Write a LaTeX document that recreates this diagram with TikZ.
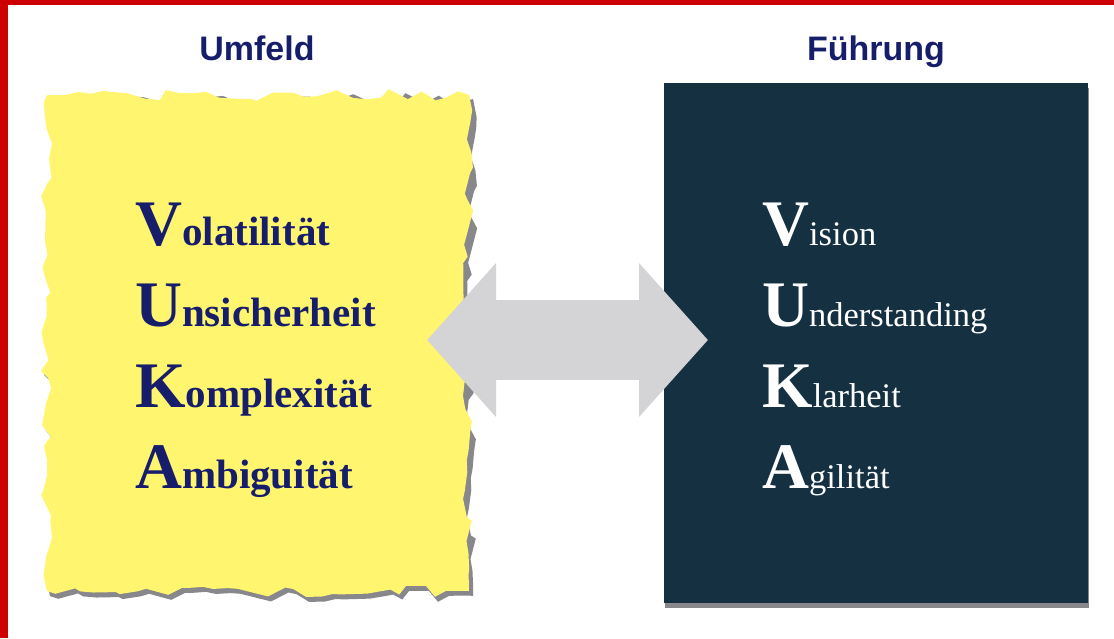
\documentclass[tikz,border=0pt]{standalone}
\usepackage{fontspec}
\setmainfont{Liberation Serif}
\setsansfont{Liberation Sans}
\usetikzlibrary{positioning,arrows.meta,decorations.pathmorphing,shadows}
\definecolor{ink}{RGB}{22,30,108}
\definecolor{paper}{RGB}{255,245,110}
\definecolor{night}{RGB}{21,48,64}
\definecolor{linkgrey}{RGB}{212,212,214}
\definecolor{frame}{RGB}{204,0,0}
\definecolor{smudge}{RGB}{135,135,140}
\newcommand{\vuka}[2]{{\fontsize{65}{65}\selectfont\bfseries #1}#2}

\begin{document}
\begin{tikzpicture}[x=1pt,y=-1pt]
	\tikzstyle{title}=[font=\sffamily\bfseries\fontsize{34}{34}\selectfont, text=ink, anchor=base, inner sep=0pt]
	\tikzstyle{left_item}=[anchor=base west, inner sep=0pt, text=ink, font=\bfseries\fontsize{41}{41}\selectfont]
	\tikzstyle{right_item}=[anchor=base west, inner sep=0pt, text=white, font=\fontsize{34.5}{34.5}\selectfont]
	\tikzstyle{rough}=[decorate, decoration={random steps, segment length=13pt, amplitude=6pt}]
	\tikzstyle{dark_box}=[rectangle, fill=night, minimum width=424pt, minimum height=520pt, inner sep=0pt, drop shadow={shadow xshift=1pt, shadow yshift=-5pt, fill=smudge, opacity=1}]
	\tikzstyle{double_link}=[draw=linkgrey, line width=80pt, >={Triangle[length=69pt,width=150pt]}, <->]

	\useasboundingbox (0,0) rectangle (1114,638);
	\fill[white] (0,0) rectangle (1114,638);
	\fill[frame] (0,0) rectangle (8,638);
	\fill[frame] (0,0) rectangle (1114,5);

	% Umfeld
	\pgfmathsetseed{23}
	\fill[smudge, rough] (50,99) rectangle (473,596);
	\pgfmathsetseed{23}
	\fill[paper, rough] (47,95) rectangle (469,591);
	\node[title] (umfeld) at (257,60) {Umfeld};

	% Fuehrung
	\node[dark_box] (fbox) at (876,343) {};
	\node[title] (fuehrung) at (876,60) {Führung};

	\coordinate (ltip) at (427,340);
	\coordinate (rtip) at (708,340);
	\draw[double_link] (ltip) -- (rtip);

	\node[left_item] (vol) at (135,245) {\vuka{V}{olatilität}};
	\node[left_item] (uns) at ([yshift=-81pt]vol.base west) {\vuka{U}{nsicherheit}};
	\node[left_item] (kom) at ([yshift=-81pt]uns.base west) {\vuka{K}{omplexität}};
	\node[left_item] (amb) at ([yshift=-81pt]kom.base west) {\vuka{A}{mbiguität}};

	\node[right_item] (vis) at (762,245) {\vuka{V}{ision}};
	\node[right_item] (und) at ([yshift=-81pt]vis.base west) {\vuka{U}{nderstanding}};
	\node[right_item] (kla) at ([yshift=-81pt]und.base west) {\vuka{K}{larheit}};
	\node[right_item] (agi) at ([yshift=-81pt]kla.base west) {\vuka{A}{gilität}};
\end{tikzpicture}
\end{document}
